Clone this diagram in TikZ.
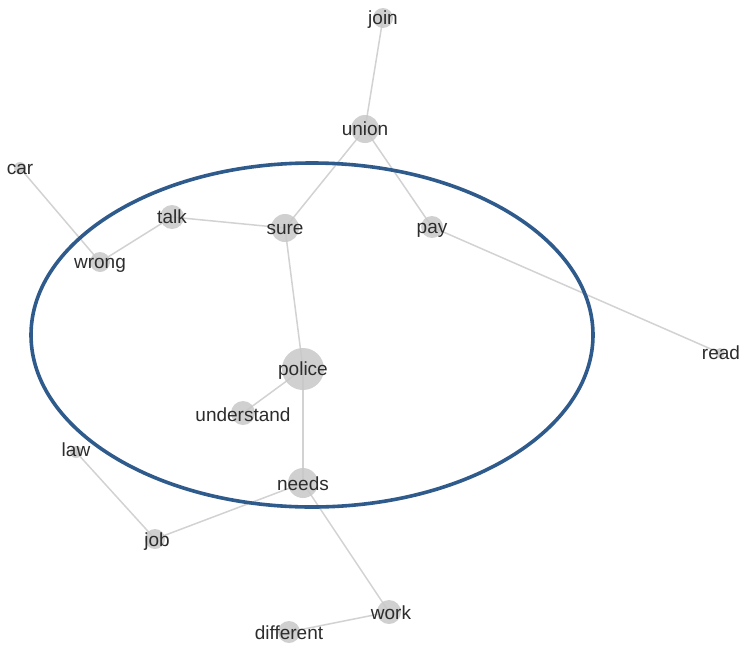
\documentclass[tikz,border=0pt]{standalone}
\usepackage{fontspec}
\setmainfont{Liberation Sans}
\usetikzlibrary{backgrounds}
\definecolor{dotgray}{HTML}{C8C8C8}
\definecolor{edgegray}{HTML}{D2D2D2}
\definecolor{txtgray}{HTML}{2C2C2C}
\definecolor{ellblue}{HTML}{2F5A8C}
\tikzset{
  dot/.style={circle, fill=dotgray, fill opacity=0.85, draw=none, inner sep=0pt},
  lbl/.style={text=txtgray, font=\fontsize{19}{21}\selectfont, inner sep=0pt, anchor=base},
  edge/.style={draw=edgegray, line width=1.5pt},
  ring/.style={draw=ellblue, line width=3.6pt}
}
\begin{document}
\begin{tikzpicture}[x=1pt,y=-1pt]
\useasboundingbox (0,0) rectangle (743,645);
% nodes (circles)
\node[dot, minimum size=20pt] (join) at (383,18) {};
\node[dot, minimum size=28pt] (union) at (365,129) {};
\node[dot, minimum size=12pt] (car) at (20,168) {};
\node[dot, minimum size=24pt] (talk) at (172,217) {};
\node[dot, minimum size=28pt] (sure) at (285,228) {};
\node[dot, minimum size=22pt] (pay) at (432,227) {};
\node[dot, minimum size=20pt] (wrong) at (100,262) {};
\node[dot, minimum size=10pt] (read) at (720,353) {};
\node[dot, minimum size=42pt] (police) at (303,369) {};
\node[dot, minimum size=24pt] (understand) at (243,413) {};
\node[dot, minimum size=12pt] (law) at (76,452) {};
\node[dot, minimum size=30pt] (needs) at (303,483) {};
\node[dot, minimum size=20pt] (job) at (155,539) {};
\node[dot, minimum size=24pt] (work) at (389,612) {};
\node[dot, minimum size=22pt] (different) at (289,632) {};
% edges
\begin{scope}[on background layer]
\draw[edge] (join.center) -- (union.center);
\draw[edge] (union.center) -- (sure.center);
\draw[edge] (union.center) -- (pay.center);
\draw[edge] (pay.center) -- (read.center);
\draw[edge] (car.center) -- (wrong.center);
\draw[edge] (wrong.center) -- (talk.center);
\draw[edge] (talk.center) -- (sure.center);
\draw[edge] (sure.center) -- (police.center);
\draw[edge] (police.center) -- (understand.center);
\draw[edge] (police.center) -- (needs.center);
\draw[edge] (needs.center) -- (job.center);
\draw[edge] (law.center) -- (job.center);
\draw[edge] (needs.center) -- (work.center);
\draw[edge] (work.center) -- (different.center);
\end{scope}
% ellipse
\draw[ring] (312,335) ellipse [x radius=281, y radius=172];
% labels
\node[lbl] at ([yshift=-6pt]join) {join};
\node[lbl] at ([yshift=-6pt]union) {union};
\node[lbl] at ([yshift=-6pt]car) {car};
\node[lbl] at ([yshift=-6pt]talk) {talk};
\node[lbl] at ([yshift=-6pt]sure) {sure};
\node[lbl] at ([yshift=-6pt]pay) {pay};
\node[lbl] at ([yshift=-6pt]wrong) {wrong};
\node[lbl] at ([xshift=1pt,yshift=-6pt]read) {read};
\node[lbl] at ([yshift=-6pt]police) {police};
\node[lbl] at ([yshift=-8pt]understand) {understand};
\node[lbl] at ([yshift=-4pt]law) {law};
\node[lbl] at ([yshift=-7pt]needs) {needs};
\node[lbl] at ([xshift=2pt,yshift=-7pt]job) {job};
\node[lbl] at ([xshift=2pt,yshift=-7pt]work) {work};
\node[lbl] at ([yshift=-7pt]different) {different};
\end{tikzpicture}
\end{document}
